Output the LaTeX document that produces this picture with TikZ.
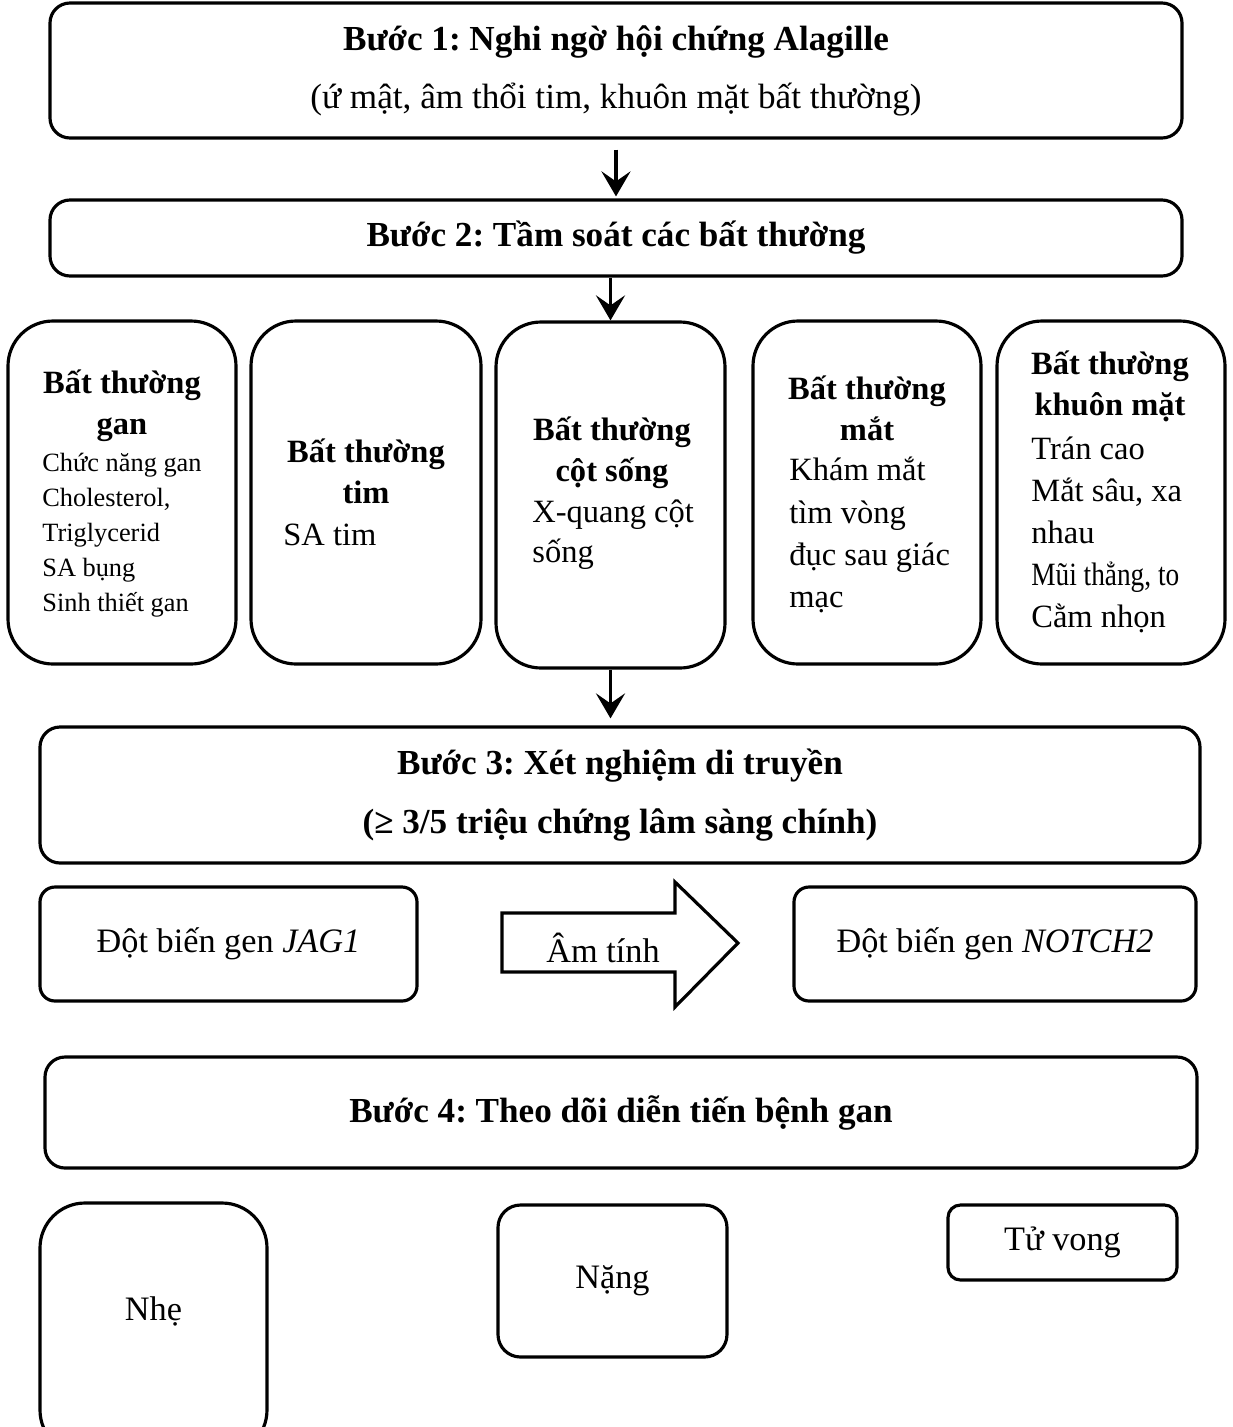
\documentclass[tikz,border=0pt]{standalone}
\usepackage{fontspec}
\setmainfont{Liberation Serif}
\frenchspacing
\usepackage{tikz}
\usetikzlibrary{arrows.meta,positioning}
\tikzset{
  step box/.style={draw, rounded corners=0.4cm, line width=1.8pt, align=center, font=\fontsize{20}{24}\selectfont},
  group box/.style={draw, rounded corners=0.9cm, line width=1.8pt, minimum height=6.86cm},
  group title/.style={align=center, font=\fontsize{18.5}{23.5}\selectfont\bfseries},
  group text/.style={anchor=west, align=left, inner sep=0pt, font=\fontsize{18.5}{24}\selectfont},
  result box/.style={draw, line width=1.8pt, align=center, font=\fontsize{19.5}{24}\selectfont},
  step edge/.style={-{Stealth[length=5mm, width=5.8mm, inset=2mm]}, line width=2.2pt},
}

\begin{document}
\begin{tikzpicture}
  \useasboundingbox (0,0) rectangle (24.64,-28.54);
  \clip (0,0) rectangle (24.64,-28.54);
  % step 1 and step 2
  \node[step box, minimum width=22.64cm, minimum height=2.7cm] (b1) at (12.32,-1.41) {\textbf{Bước 1: Nghi ngờ hội chứng Alagille}\\[9pt](ứ mật, âm thổi tim, khuôn mặt bất thường)};
  \node[step box, minimum width=22.64cm, minimum height=1.52cm] (b2) at (12.32,-4.76) {\textbf{Bước 2: Tầm soát các bất thường}};
  \draw[step edge, shorten <=0.2cm, shorten >=0.04cm] (b1.south) -- (b2.north);

  % the five groups of checks
  \node[group box, minimum width=4.56cm] (g1) at (2.44,-9.85) {};
  \node[group box, minimum width=4.6cm] (g2) at (7.32,-9.85) {};
  \node[group box, minimum width=4.58cm, minimum height=6.92cm] (g3) at (12.21,-9.9) {};
  \node[group box, minimum width=4.56cm] (g4) at (17.34,-9.85) {};
  \node[group box, minimum width=4.56cm] (g5) at (22.22,-9.85) {};
  \node[group title] (g1t) at (2.44,-8.12) {Bất thường\\gan};
  \node[group text, font=\fontsize{15}{19.9}\selectfont] (g1x) at (0.84,-10.7) {Chức năng gan\\Cholesterol,\\Triglycerid\\SA bụng\\Sinh thiết gan};
  \node[group title] (g2t) at (7.32,-9.42) {Bất thường\\tim};
  \node[group text] (g2x) at (5.66,-10.7) {SA tim};
  \node[group title] (g3t) at (12.24,-9.06) {Bất thường\\cột sống};
  \node[group text, font=\fontsize{18.5}{22.7}\selectfont] (g3x) at (10.64,-10.7) {X-quang cột\\sống};
  \node[group title] (g4t) at (17.34,-8.16) {Bất thường\\mắt};
  \node[group text] (g4x) at (15.78,-10.7) {Khám mắt\\tìm vòng\\đục sau giác\\mạc};
  \node[group title] (g5t) at (22.2,-7.73) {Bất thường\\khuôn mặt};
  \node[group text] (g5x) at (20.62,-10.7) {Trán cao\\Mắt sâu, xa\\nhau\\{\addfontfeatures{FakeStretch=0.84}Mũi thẳng, to}\\Cằm nhọn};
  \draw[step edge] (b2.south -| g3.north) -- (g3.north);

  % step 3: genetics
  \node[step box, font=\fontsize{20}{24}\selectfont\bfseries, minimum width=23.2cm, minimum height=2.72cm] (b3) at (12.4,-15.9) {Bước 3: Xét nghiệm di truyền\\[10pt](≥ 3/5 triệu chứng lâm sàng chính)};
  \draw[step edge, shorten >=0.14cm] (g3.south) -- (g3.south |- b3.north);
  \node[result box, rounded corners=0.3cm, minimum width=7.54cm, minimum height=2.28cm] (jag) at (4.57,-18.88) {Đột biến gen \textit{JAG1}};
  \node[result box, rounded corners=0.3cm, minimum width=8.04cm, minimum height=2.28cm] (notch) at (19.9,-18.88) {Đột biến gen \textit{NOTCH2}};
  \draw[line width=1.8pt, line join=miter] (10.04,-18.26) -- (13.5,-18.26) -- (13.5,-17.64) -- (14.76,-18.86) -- (13.5,-20.14) -- (13.5,-19.44) -- (10.04,-19.44) -- cycle;
  \node[font=\fontsize{19.5}{24}\selectfont] (neg) at (12.06,-18.96) {Âm tính};

  % step 4: follow-up
  \node[step box, minimum width=23.04cm, minimum height=2.22cm] (b4) at (12.42,-22.25) {\textbf{Bước 4: Theo dõi diễn tiến bệnh gan}};
  \node[result box, rounded corners=0.9cm, minimum width=4.54cm, minimum height=5.04cm] (mild) at (3.07,-26.58) {};
  \node[font=\fontsize{19.5}{24}\selectfont] (mildt) at (3.07,-26.22) {Nhẹ};
  \node[result box, rounded corners=0.45cm, minimum width=4.58cm, minimum height=3.04cm] (severe) at (12.25,-25.62) {Nặng};
  \node[result box, rounded corners=0.25cm, minimum width=4.58cm, minimum height=1.5cm] (death) at (21.25,-24.85) {Tử vong};
\end{tikzpicture}
\end{document}
